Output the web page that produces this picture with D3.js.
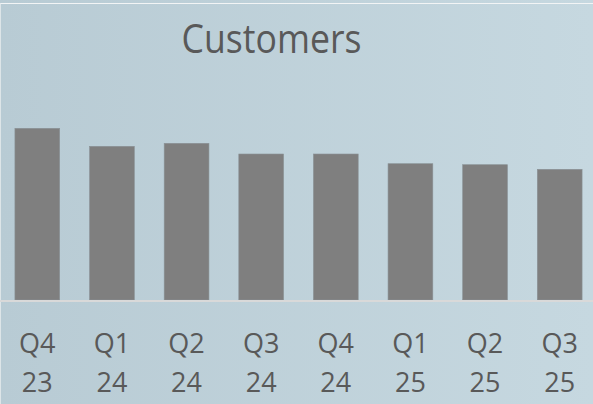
<!DOCTYPE html>
<html>
<head>
<meta charset="utf-8">
<script src="https://cdn.jsdelivr.net/npm/d3@7"></script>
<style>
  html, body { margin: 0; padding: 0; background: #bfd1d9; }
  svg { display: block; }
</style>
</head>
<body>
<svg id="chart" width="593" height="404"></svg>
<script>
const title = "Customers";
const quarters = ["Q4", "Q1", "Q2", "Q3", "Q4", "Q1", "Q2", "Q3"];
const years = ["23", "24", "24", "24", "24", "25", "25", "25"];
const categories = quarters.map((q, i) => q + " " + years[i]);
const values = [171.7, 153.7, 156.7, 146, 146, 136.3, 135.3, 130.7];

const W = 593, H = 404;
const svg = d3.select("#chart");
const defs = svg.append("defs");
const grad = defs.append("linearGradient").attr("id", "bg").attr("x1", 0).attr("x2", 1).attr("y1", 0).attr("y2", 0);
grad.append("stop").attr("offset", "0%").attr("stop-color", "#b8cbd4");
grad.append("stop").attr("offset", "100%").attr("stop-color", "#c6d8e0");

svg.append("rect").attr("x", 0).attr("y", 0).attr("width", W).attr("height", H).attr("fill", "url(#bg)");
// frame lines
svg.append("line").attr("x1", 0).attr("x2", W).attr("y1", 3.5).attr("y2", 3.5)
  .attr("stroke", "#f2f4f5").attr("stroke-width", 1.2);
svg.append("line").attr("x1", 0.5).attr("x2", 0.5).attr("y1", 3.5).attr("y2", H)
  .attr("stroke", "#dde5e8").attr("stroke-width", 1);

const x = d3.scaleBand().domain(categories).range([0, 597]).paddingInner(0.4).paddingOuter(0.2);
const y = d3.scaleLinear().domain([0, 200]).range([300, 100]);

svg.append("g").selectAll("rect").data(values).join("rect")
  .attr("x", (d, i) => x(categories[i]))
  .attr("width", x.bandwidth())
  .attr("y", d => y(d))
  .attr("height", d => y(0) - y(d))
  .attr("fill", "#7f7f7f")
  .attr("stroke", "#8a9296")
  .attr("stroke-width", 0.6);

// baseline
svg.append("line").attr("x1", 0).attr("x2", W).attr("y1", y(0) + 1).attr("y2", y(0) + 1)
  .attr("stroke", "#d9d9d9").attr("stroke-width", 2);

// category labels
const lab = svg.append("g").attr("font-family", "'Open Sans', sans-serif").attr("font-size", 27)
  .attr("fill", "#595959").attr("text-anchor", "middle");
categories.forEach((c, i) => {
  const cx = x(c) + x.bandwidth() / 2;
  lab.append("text").attr("x", cx).attr("y", 352.5).text(quarters[i]);
  lab.append("text").attr("x", cx).attr("y", 391.5).text(years[i]);
});

// title
svg.append("text").attr("x", 181.5).attr("y", 52.5)
  .attr("font-family", "'Open Sans', sans-serif").attr("font-size", 40.5)
  .attr("fill", "#595959")
  .attr("textLength", 180).attr("lengthAdjust", "spacingAndGlyphs")
  .text(title);
</script>
</body>
</html>
